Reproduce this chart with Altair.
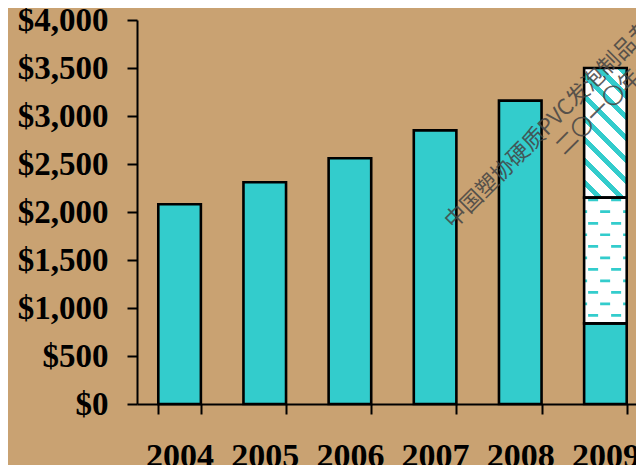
import altair as alt
import pandas as pd
import math

# ---- data ----
years = ["2004", "2005", "2006", "2007", "2008", "2009"]
totals = [2080, 2310, 2560, 2850, 3160, 3500]
# 2009 bar split into three stacked pieces (tops of each piece)
seg_2009_tops = [840, 2150, 3500]
seg_2009_kinds = ["solid", "dash", "stripe"]

y_ticks = [0, 500, 1000, 1500, 2000, 2500, 3000, 3500, 4000]

# pattern rows (value positions) of the dashed fill in the 2009 middle piece
dash_rows_a = [2125, 1882, 1642, 1402, 1163, 924]
dash_rows_b = [2003, 1763, 1523, 1283, 1044]

watermark_lines = ["中国塑协硬质PVC发泡制品专业委员会", "二〇一〇年十一月"]
watermark_years = ["2009", "2009"]
watermark_values = [3500, 3115]

# ---- style ----
TURQ = "#33CCCC"
BG = "#C9A272"
RANGE_W, H = 511, 384   # x scale spans past the visible page, as in the reference
W = 499
BAR_W = RANGE_W / len(years) * 0.5

rows = []
for yr, tot in zip(years, totals):
    if yr == "2009":
        start = 0
        for top, kind in zip(seg_2009_tops, seg_2009_kinds):
            rows.append({"year": yr, "start": start, "end": top, "kind": kind})
            start = top
    else:
        rows.append({"year": yr, "start": 0, "end": tot, "kind": "solid"})
bars = pd.DataFrame(rows)

dash_df = pd.DataFrame(
    [{"year": "2009", "v": v, "row": "a"} for v in dash_rows_a]
    + [{"year": "2009", "v": v, "row": "b"} for v in dash_rows_b]
)
wm_df = pd.DataFrame({"year": watermark_years, "v": watermark_values, "text": watermark_lines})

x_scale = alt.Scale(domain=years, range=[0, RANGE_W], paddingInner=0.5, paddingOuter=0.25)
y_scale = alt.Scale(domain=[0, 4000], nice=False)

x_enc = alt.X(
    "year:N", scale=x_scale, title=None,
    axis=alt.Axis(
        labelAngle=0, labelFont="Liberation Serif", labelFontWeight="bold",
        labelFontSize=34, labelColor="black", labelPadding=25,
        tickBand="extent", tickSize=10, tickWidth=2, tickColor="black",
        domainColor="black", domainWidth=2, grid=False,
    ),
)
y_enc = alt.Y(
    "start:Q", scale=y_scale, title=None,
    axis=alt.Axis(
        values=y_ticks, format="$,.0f", labelFont="Liberation Serif",
        labelFontWeight="bold", labelFontSize=33, labelColor="black",
        labelPadding=19, tickSize=10, tickWidth=2, tickColor="black",
        domainColor="black", domainWidth=2, grid=False,
    ),
)

base = alt.Chart(bars).encode(x=x_enc, y=y_enc, y2="end:Q")

solid = base.transform_filter(alt.datum.kind == "solid").mark_bar(fill=TURQ, strokeWidth=0)
dash_bg = base.transform_filter(alt.datum.kind == "dash").mark_bar(fill="white", strokeWidth=0)

# diagonal stripe fill via a hard-stop linear gradient
seg_h = (seg_2009_tops[2] - seg_2009_tops[1]) * H / 4000
D = (BAR_W + seg_h) / math.sqrt(2)
k = (BAR_W + seg_h) / (BAR_W ** 2 + seg_h ** 2)
period, first_c, half = 15.1, 11.2, 2.5
stops = [alt.GradientStop(color="white", offset=0)]
c = first_c - period
while c - half < D:
    a0 = max(0.0, (c - half) / D)
    a1 = min(1.0, (c + half) / D)
    if a1 > 0:
        stops += [
            alt.GradientStop(color="white", offset=a0),
            alt.GradientStop(color=TURQ, offset=a0),
            alt.GradientStop(color=TURQ, offset=a1),
            alt.GradientStop(color="white", offset=a1),
        ]
    c += period
stops.append(alt.GradientStop(color="white", offset=1))
grad = alt.LinearGradient(
    gradient="linear", stops=stops,
    x1=0, y1=1, x2=BAR_W * k, y2=1 - seg_h * k,
)
stripe = base.transform_filter(alt.datum.kind == "stripe").mark_bar(fill=grad, strokeWidth=0)


def dash_layer(row, offset):
    return alt.Chart(dash_df).transform_filter(alt.datum.row == row).mark_rule(
        color=TURQ, strokeWidth=2.7, strokeDash=[10, 13], strokeDashOffset=offset,
        xOffset=-BAR_W / 2, x2Offset=BAR_W / 2, strokeCap="butt",
    ).encode(
        x=alt.X("year:N", scale=x_scale, bandPosition=0.5),
        x2=alt.X2("year:N", bandPosition=0.5),
        y=alt.Y("v:Q", scale=y_scale),
    )


dash_a = dash_layer("a", 19)
dash_b = dash_layer("b", 7)

outline = base.mark_bar(fill=TURQ, fillOpacity=0, stroke="black", strokeWidth=2.6)


def wm_layer(i, dx):
    return alt.Chart(wm_df.iloc[[i]]).mark_text(
        angle=315, align="left", baseline="middle", font="Noto Sans CJK SC",
        fontSize=22, color="#444444", opacity=0.85, dx=dx,
    ).encode(x=alt.X("year:N", scale=x_scale), y=alt.Y("v:Q", scale=y_scale), text="text:N")


wm1 = wm_layer(0, -221.7)
wm2 = wm_layer(1, -64.8)

chart = alt.layer(solid, dash_bg, stripe, dash_a, dash_b, outline, wm1, wm2).properties(
    width=W, height=H,
    autosize=alt.AutoSizeParams(type="none"),
    padding={"left": 129, "top": 12, "right": 0, "bottom": 61},
    background=BG,
).configure_view(stroke=None)

chart.save("out.html", embed_options={"renderer": "svg", "actions": False})
